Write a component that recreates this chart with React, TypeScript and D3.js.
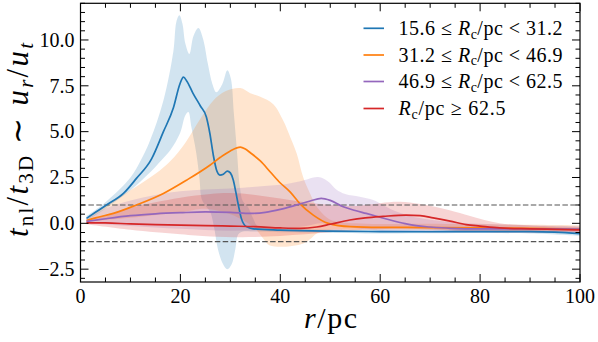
import React from "react";
import * as d3 from "d3";

type P = [number, number];

// ---- data (r in pc, value) ----
const blueMean: P[] = [[1.2,0.27],[3,0.6],[5.2,1.0],[8.6,1.63],[11.2,2.45],[14.2,3.5],[16.6,5.0],[18.6,6.3],[19.9,7.6],[20.6,7.97],[21.3,7.75],[22.5,7.1],[24.0,6.4],[25.2,5.8],[25.9,4.9],[26.6,3.7],[27.3,2.85],[27.9,2.63],[28.6,2.68],[29.4,2.85],[30.0,2.75],[30.6,2.35],[31.1,1.7],[31.6,1.0],[32.2,0.27],[33.2,-0.18],[34.6,-0.3],[40,-0.37],[50,-0.43],[60,-0.45],[70,-0.46],[80,-0.45],[90,-0.45],[95,-0.48],[100,-0.56]];
const blueHi: P[] = [[1.2,0.4],[5,1.15],[10,2.5],[12,3.4],[13.9,4.5],[16.6,6.7],[18.6,9.4],[19.2,11.0],[19.8,11.35],[20.4,10.9],[21.0,9.8],[21.8,9.24],[22.6,10.2],[23.6,10.65],[24.5,10.1],[25.5,8.7],[26.4,7.6],[27.2,7.15],[28.4,7.6],[29.4,8.35],[30.1,7.9],[30.7,6.0],[31.3,4.0],[31.9,2.0],[32.5,1.2],[33.5,0.9],[34.5,0.3],[35.5,-0.15],[40,-0.28],[60,-0.35],[90,-0.35],[100,-0.45]];
const blueLo: P[] = [[1.2,0.15],[5,0.8],[10,1.8],[14,2.8],[16.2,3.44],[18,4.0],[19.9,4.9],[21.0,5.9],[21.6,6.07],[22.2,5.25],[23.2,3.8],[23.8,2.5],[24.3,1.3],[25.2,0.9],[26.0,0.6],[26.8,-0.3],[27.5,-1.4],[28.5,-2.2],[29.4,-2.5],[30.3,-2.2],[31.0,-1.4],[31.6,-0.6],[32.5,-0.45],[35,-0.45],[40,-0.48],[60,-0.55],[90,-0.55],[100,-0.68]];

const orangeMean: P[] = [[1.2,0.15],[3,0.3],[6.6,0.54],[11.2,1.0],[16.6,1.63],[21.2,2.35],[25.9,3.17],[28,3.6],[30,3.95],[32,4.16],[33,4.05],[34,3.85],[36,3.4],[38,2.8],[40,2.2],[42,1.7],[44,1.05],[46.6,0.45],[49.6,0.0],[54,-0.18],[60,-0.22],[70,-0.23],[80,-0.25],[90,-0.28],[100,-0.32]];
const orangeHi: P[] = [[1.2,0.25],[5,1.0],[10,1.8],[15,2.7],[18,3.4],[21,4.4],[24,5.7],[26.6,6.7],[29,7.2],[32,7.38],[34,7.1],[36,6.9],[38.6,6.5],[40.6,5.6],[42,4.7],[43.3,3.8],[44.6,2.5],[46,1.6],[47.3,0.9],[50,0.2],[55,0.0],[70,-0.02],[100,-0.1]];
const orangeLo: P[] = [[1.2,0.1],[10,0.3],[20,0.6],[25,0.8],[30,0.5],[33,0.1],[35,-0.3],[36.5,-0.8],[37.8,-1.2],[40,-1.28],[42,-1.25],[44.6,-1.1],[46,-0.85],[47.3,-0.55],[50,-0.35],[55,-0.35],[100,-0.45]];

const purpleMean: P[] = [[1.2,0.1],[5,0.25],[10,0.42],[15,0.52],[20,0.58],[25,0.62],[30,0.6],[34,0.54],[37,0.6],[40,0.76],[43,0.98],[46,1.22],[48.2,1.36],[50,1.25],[52.6,0.9],[55,0.7],[57.2,0.54],[60,0.33],[62,0.18],[65,-0.02],[67.2,-0.13],[70,-0.2],[74,-0.27],[80,-0.3],[90,-0.3],[100,-0.32]];
const purpleHi: P[] = [[1.2,0.2],[5,0.8],[10,1.25],[15,1.55],[20,1.75],[25,1.85],[30,1.9],[35,2.0],[40,2.1],[44,2.3],[47.6,2.53],[49.5,2.3],[51.2,1.85],[53,1.6],[55.9,1.45],[58.6,1.27],[60.5,1.0],[62.6,0.72],[66,0.4],[70,0.2],[75,0.05],[80,-0.02],[90,-0.1],[100,-0.15]];
const purpleLo: P[] = [[1.2,0.02],[10,-0.15],[20,-0.3],[30,-0.4],[40,-0.3],[46,-0.1],[48,0.0],[52,-0.1],[56,-0.3],[62,-0.45],[70,-0.5],[85,-0.5],[100,-0.5]];

const redMean: P[] = [[1.2,0.03],[5,0.02],[10,-0.03],[15,-0.07],[20,-0.1],[25,-0.12],[30,-0.15],[35,-0.18],[40,-0.25],[44,-0.28],[47.3,-0.2],[50,-0.05],[53.9,0.18],[57,0.3],[60.6,0.38],[65.2,0.45],[68,0.42],[70.6,0.3],[74,0.12],[77.2,-0.07],[80,-0.15],[83.9,-0.25],[90,-0.3],[95,-0.33],[100,-0.36]];
const redHi: P[] = [[1.2,0.12],[5,0.45],[10,0.85],[15,1.15],[20,1.4],[26,1.6],[30,1.65],[35,1.55],[40,1.35],[45,1.15],[50,1.0],[55,0.95],[60,1.1],[64,1.17],[68,1.05],[73.9,0.72],[78,0.4],[83.9,0.0],[90,-0.12],[100,-0.2]];
const redLo: P[] = [[1.2,-0.05],[10,-0.35],[20,-0.6],[26,-0.72],[35,-0.75],[45,-0.6],[55,-0.38],[65,-0.3],[75,-0.4],[85,-0.5],[100,-0.55]];

const colors = ["#1f77b4", "#ff7f0e", "#9467bd", "#d62728"];
const legendLow = ["15.6", "31.2", "46.9"];
const legendHigh = ["31.2", "46.9", "62.5"];
const lastBin = "62.5";

const xTicks = [0, 20, 40, 60, 80, 100];
const yTicks = [-2.5, 0, 2.5, 5, 7.5, 10];
const refLines = [1, -1];

const series = [
  { mean: blueMean, hi: blueHi, lo: blueLo },
  { mean: orangeMean, hi: orangeHi, lo: orangeLo },
  { mean: purpleMean, hi: purpleHi, lo: purpleLo },
  { mean: redMean, hi: redHi, lo: redLo },
];

const W = 598, H = 342;
const L = 80.5, R = 580, T = 3.3, B = 282;
const FONT = '"Liberation Serif"';

export default function App() {
  const x = d3.scaleLinear().domain([0, 100]).range([L, R]);
  const y = d3.scaleLinear().domain([-3.2, 12]).range([B, T]);
  const line = d3.line<P>().x(d => x(d[0])).y(d => y(d[1])).curve(d3.curveMonotoneX);
  const bandLine = d3.line<P>().x(d => x(d[0])).y(d => y(d[1])).curve(d3.curveCatmullRom.alpha(0.5));
  const band = (hi: P[], lo: P[]) => {
    const up = bandLine(hi) as string;
    const dn = bandLine([...lo].reverse()) as string;
    return up + "L" + dn.slice(1) + "Z";
  };

  const xMinor = d3.range(0, 101, 5);
  const yMinor = d3.range(-3, 12.01, 0.5);
  const fmtY = (v: number) => (v < 0 ? "\u2212" : "") + Math.abs(v).toFixed(1);
  const tf = { fontFamily: FONT };

  const legendY = [28.3, 55, 81.5, 108.5];
  return (
    <svg width={W} height={H} style={{ position: "absolute", left: 0, top: 0, background: "#fff" }}>
      <defs>
        <clipPath id="plot">
          <rect x={L} y={T} width={R - L} height={B - T} />
        </clipPath>
      </defs>
      <g clipPath="url(#plot)">
        {series.map((s, i) => (
          <path key={"b" + i} d={band(s.hi, s.lo)} fill={colors[i]} fillOpacity={0.2} stroke="none" />
        ))}
        {refLines.map(v => (
          <line key={"r" + v} x1={L} x2={R} y1={y(v)} y2={y(v)} stroke="#555" strokeWidth={1.2} strokeDasharray="5.5 2.4" />
        ))}
        {series.map((s, i) => (
          <path key={"l" + i} d={line(s.mean) as string} fill="none" stroke={colors[i]} strokeWidth={1.7} />
        ))}
      </g>
      {/* frame */}
      <rect x={L} y={T} width={R - L} height={B - T} fill="none" stroke="#000" strokeWidth={1.2} />
      {/* ticks */}
      <g stroke="#000" strokeWidth={1}>
        {xMinor.map(v => {
          const major = v % 20 === 0;
          const len = major ? 8 : 4.5;
          return (
            <g key={"xt" + v}>
              <line x1={x(v)} x2={x(v)} y1={B} y2={B - len} />
              <line x1={x(v)} x2={x(v)} y1={T} y2={T + len} />
            </g>
          );
        })}
        {yMinor.map(v => {
          const major = Math.abs((v / 2.5) - Math.round(v / 2.5)) < 1e-6;
          const len = major ? 8 : 4.5;
          return (
            <g key={"yt" + v}>
              <line x1={L} x2={L + len} y1={y(v)} y2={y(v)} />
              <line x1={R} x2={R - len} y1={y(v)} y2={y(v)} />
            </g>
          );
        })}
      </g>
      {/* tick labels */}
      {xTicks.map(v => (
        <text key={"xl" + v} x={x(v)} y={303} textAnchor="middle" fontSize={20} style={tf}>{v}</text>
      ))}
      {yTicks.map(v => (
        <text key={"yl" + v} x={74.5} y={y(v)} dy="0.34em" textAnchor="end" fontSize={20} style={tf}>{fmtY(v)}</text>
      ))}
      {/* axis labels */}
      <text x={304} y={328} fontSize={30} textLength={53} lengthAdjust="spacing" style={tf}>
        <tspan fontStyle="italic">r</tspan>
        <tspan>/pc</tspan>
      </text>
      <text transform={`translate(28,237) rotate(-90)`} fontSize={31} textLength={194} lengthAdjust="spacing" style={tf}>
        <tspan fontStyle="italic">t</tspan>
        <tspan fontSize={21} dy={5}>nl</tspan>
        <tspan dy={-5}>/</tspan>
        <tspan fontStyle="italic">t</tspan>
        <tspan fontSize={21} dy={5}>3D</tspan>
        <tspan dy={-5}> ∼ </tspan>
        <tspan fontStyle="italic">u</tspan>
        <tspan fontSize={21} dy={5} fontStyle="italic">r</tspan>
        <tspan dy={-5}>/</tspan>
        <tspan fontStyle="italic">u</tspan>
        <tspan fontSize={21} dy={5} fontStyle="italic">t</tspan>
      </text>
      {/* legend */}
      {colors.map((c, i) => (
        <g key={"lg" + i}>
          <line x1={363.5} x2={384} y1={legendY[i]} y2={legendY[i]} stroke={c} strokeWidth={1.7} />
          <text x={398.5} y={legendY[i]} dy="0.34em" fontSize={20} textLength={i < 3 ? 164 : 107} lengthAdjust="spacing" style={tf}>
            {i < 3 ? <tspan>{legendLow[i]} ≤ </tspan> : null}
            <tspan fontStyle="italic">R</tspan>
            <tspan fontSize={14} dy={3.5}>c</tspan>
            <tspan dy={-3.5}>{i < 3 ? `/pc < ${legendHigh[i]}` : `/pc ≥ ${lastBin}`}</tspan>
          </text>
        </g>
      ))}
    </svg>
  );
}
